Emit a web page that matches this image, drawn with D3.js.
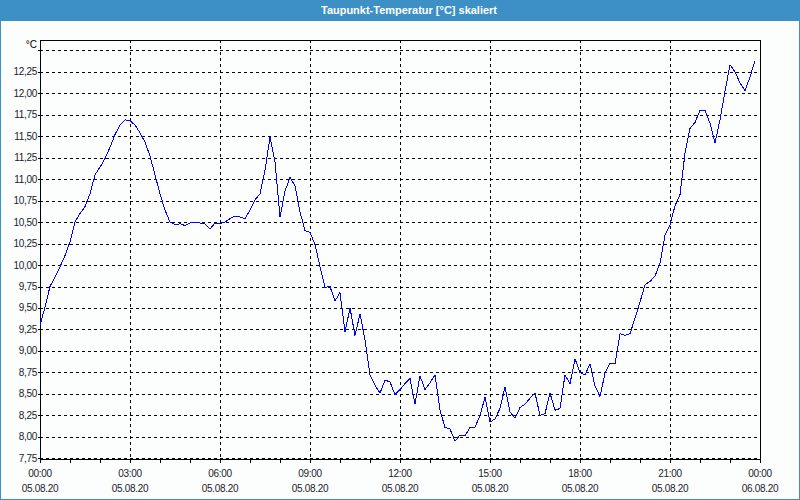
<!DOCTYPE html>
<html>
<head>
<meta charset="utf-8">
<script src="https://cdn.jsdelivr.net/npm/d3@7"></script>
<style>
  html, body { margin: 0; padding: 0; background: #fbfefd; }
  svg { display: block; }
  text { font-family: "Liberation Sans", "DejaVu Sans", sans-serif; }
</style>
</head>
<body>
<svg id="chart" width="800" height="500"></svg>
<script>
// ---- data ----
const chartTitle = "Taupunkt-Temperatur [°C] skaliert";
const unitLabel = "°C";
const startTime = "2020-08-05T00:00:00";
const stepMinutes = 10;
// dew point temperature, one value every 10 minutes from 00:00
const dewPoint = [
  9.30, 9.51, 9.75, 9.86, 9.98, 10.11, 10.27, 10.50, 10.60, 10.68,
  10.83, 11.05, 11.14, 11.24, 11.37, 11.52, 11.63, 11.69, 11.68, 11.63,
  11.54, 11.43, 11.27, 11.05, 10.83, 10.64, 10.50, 10.47, 10.48, 10.46,
  10.49, 10.50, 10.49, 10.48, 10.42, 10.49, 10.48, 10.50, 10.54, 10.57,
  10.56, 10.54, 10.64, 10.76, 10.83, 11.10, 11.49, 11.20, 10.56, 10.86,
  11.02, 10.92, 10.62, 10.40, 10.38, 10.24, 9.98, 9.74, 9.75, 9.58,
  9.68, 9.22, 9.50, 9.18, 9.43, 9.13, 8.72, 8.60, 8.51, 8.66,
  8.64, 8.49, 8.55, 8.62, 8.68, 8.38, 8.71, 8.55, 8.63, 8.72,
  8.31, 8.11, 8.09, 7.95, 8.02, 8.01, 8.11, 8.11, 8.25, 8.46,
  8.17, 8.21, 8.33, 8.58, 8.29, 8.22, 8.34, 8.38, 8.45, 8.51,
  8.25, 8.27, 8.51, 8.31, 8.33, 8.72, 8.62, 8.91, 8.75, 8.72,
  8.85, 8.59, 8.47, 8.74, 8.86, 8.85, 9.20, 9.18, 9.20, 9.38,
  9.57, 9.77, 9.81, 9.87, 10.02, 10.35, 10.47, 10.69, 10.82, 11.30,
  11.59, 11.66, 11.80, 11.80, 11.65, 11.42, 11.69, 12.02, 12.33, 12.25,
  12.12, 12.03, 12.19, 12.38
];
const yTickValues = [7.75, 8.00, 8.25, 8.50, 8.75, 9.00, 9.25, 9.50, 9.75, 10.00,
  10.25, 10.50, 10.75, 11.00, 11.25, 11.50, 11.75, 12.00, 12.25, 12.50];
const yTickLabels = ["7,75", "8,00", "8,25", "8,50", "8,75", "9,00", "9,25", "9,50", "9,75", "10,00",
  "10,25", "10,50", "10,75", "11,00", "11,25", "11,50", "11,75", "12,00", "12,25", ""];
const xTimeLabels = ["00:00", "03:00", "06:00", "09:00", "12:00", "15:00", "18:00", "21:00", "00:00"];
const xDateLabels = ["05.08.20", "05.08.20", "05.08.20", "05.08.20", "05.08.20", "05.08.20", "05.08.20", "05.08.20", "06.08.20"];

// ---- layout ----
const W = 800, H = 500;
const plot = { left: 40, right: 760, top: 40, bottom: 460 };
const svg = d3.select("#chart");

const t0 = new Date(startTime);
const t1 = d3.timeHour.offset(t0, 24);
const x = d3.scaleTime().domain([t0, t1]).range([plot.left, plot.right]);
const y = d3.scaleLinear().domain([7.75, 12.5]).range([458.3, 50.3]);

const data = dewPoint.map((v, i) => ({ t: d3.timeMinute.offset(t0, i * stepMinutes), v }));

// background
svg.append("rect").attr("x", 0).attr("y", 0).attr("width", W).attr("height", H).attr("fill", "#fbfefd");

// title bar
svg.append("rect").attr("x", 0).attr("y", 0).attr("width", W).attr("height", 21).attr("fill", "#3c90c6");
svg.append("text")
  .attr("x", 409).attr("y", 13.5)
  .attr("text-anchor", "middle")
  .attr("fill", "#ffffff")
  .attr("font-size", "11px")
  .attr("font-weight", "bold")
  .attr("textLength", 176)
  .attr("lengthAdjust", "spacingAndGlyphs")
  .text(chartTitle);

// window border
svg.append("rect").attr("x", 0.5).attr("y", 0.5).attr("width", W - 1).attr("height", H - 1)
  .attr("fill", "none").attr("stroke", "#3c90c6").attr("stroke-width", 1);

const crisp = v => Math.round(v) + 0.5;

// horizontal dashed grid
const gy = svg.append("g");
yTickValues.forEach(v => {
  const yy = crisp(y(v));
  gy.append("line").attr("x1", plot.left).attr("x2", plot.right)
    .attr("y1", yy).attr("y2", yy)
    .attr("stroke", "#000").attr("stroke-width", 1).attr("stroke-dasharray", "3,3")
    .attr("shape-rendering", "crispEdges");
  gy.append("line").attr("x1", plot.left - 2).attr("x2", plot.left)
    .attr("y1", yy).attr("y2", yy)
    .attr("stroke", "#000").attr("shape-rendering", "crispEdges");
});

// vertical dashed grid every 3 hours
const majorTicks = d3.timeHour.every(3).range(t0, d3.timeMinute.offset(t1, 1));
majorTicks.slice(1, -1).forEach(d => {
  const xx = crisp(x(d));
  svg.append("line").attr("x1", xx).attr("x2", xx)
    .attr("y1", plot.top).attr("y2", plot.bottom)
    .attr("stroke", "#000").attr("stroke-dasharray", "3,3")
    .attr("shape-rendering", "crispEdges");
});

// y labels
const labelColor = "#1a1a2a";
yTickValues.forEach((v, i) => {
  if (!yTickLabels[i]) return;
  svg.append("text")
    .attr("x", 37).attr("y", y(v) + 3.5)
    .attr("text-anchor", "end")
    .attr("font-size", "10px")
    .attr("letter-spacing", "-0.3px")
    .attr("fill", labelColor)
    .text(yTickLabels[i]);
});
svg.append("text").attr("x", 37).attr("y", 47.5).attr("text-anchor", "end")
  .attr("font-size", "10px").attr("fill", "#000").text(unitLabel);

// x axis with hourly ticks
const xAxis = d3.axisBottom(x)
  .ticks(d3.timeHour.every(1))
  .tickSize(3)
  .tickFormat("");
const gx = svg.append("g").attr("transform", `translate(0,${plot.bottom - 0.5})`).call(xAxis);
gx.select(".domain").remove();
gx.selectAll("line").attr("stroke", "#000").attr("shape-rendering", "crispEdges");

// time/date labels
majorTicks.forEach((d, i) => {
  svg.append("text").attr("x", x(d)).attr("y", 477)
    .attr("text-anchor", "middle").attr("font-size", "10px").attr("letter-spacing", "-0.3px")
    .attr("fill", labelColor).text(xTimeLabels[i]);
  svg.append("text").attr("x", x(d)).attr("y", 492)
    .attr("text-anchor", "middle").attr("font-size", "10px").attr("letter-spacing", "-0.3px")
    .attr("fill", labelColor).text(xDateLabels[i]);
});

// plot frame
svg.append("rect")
  .attr("x", plot.left + 0.5).attr("y", plot.top + 0.5)
  .attr("width", plot.right - plot.left).attr("height", plot.bottom - plot.top - 1)
  .attr("fill", "none").attr("stroke", "#000").attr("stroke-width", 1)
  .attr("shape-rendering", "crispEdges");

// the line
const line = d3.line().x(d => x(d.t)).y(d => y(d.v));
svg.append("path").datum(data)
  .attr("d", line)
  .attr("fill", "none")
  .attr("stroke", "#0000ff")
  .attr("stroke-width", 1)
  .attr("shape-rendering", "crispEdges");
</script>
</body>
</html>
